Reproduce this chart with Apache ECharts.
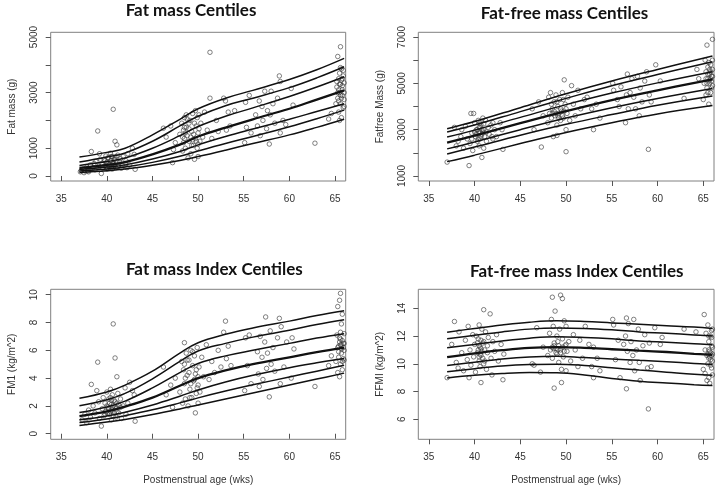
<!DOCTYPE html>
<html>
<head>
<meta charset="utf-8">
<script src="https://cdn.jsdelivr.net/npm/echarts@6/dist/echarts.min.js"></script>
<style>
html,body{margin:0;padding:0;background:#fff;}
#chart{width:720px;height:491px;}
</style>
</head>
<body>
<div id="chart"></div>
<script>
// ---------- data ----------
const xTicks = [35, 40, 45, 50, 55, 60, 65];

// Panel 1: Fat mass (g)
const fmAge = [37, 40, 42, 45, 48, 50, 53, 56, 60, 63, 66];
const fmC97 = [680, 850, 1000, 1480, 2040, 2420, 2800, 3080, 3470, 3820, 4230];
const fmC90 = [500, 680, 830, 1250, 1800, 2150, 2530, 2800, 3180, 3530, 3930];
const fmC75 = [380, 520, 650, 1000, 1450, 1780, 2150, 2450, 2860, 3200, 3570];
const fmC50 = [290, 400, 500, 780, 1130, 1420, 1740, 2040, 2420, 2750, 3080];
const fmC25 = [230, 320, 400, 610, 880, 1120, 1420, 1690, 2040, 2320, 2600];
const fmC10 = [180, 250, 320, 490, 710, 900, 1170, 1420, 1770, 2060, 2370];
const fmC3  = [130, 190, 250, 390, 560, 700, 930, 1170, 1480, 1750, 2040];
const fmTicks = [0, 1000, 2000, 3000, 4000, 5000];
const fmLabels = [0, 1000, 3000, 5000];
const fmPoints = [
[37.1,150],[37.2,200],[37.4,250],[37.6,180],[37.8,320],[38.0,260],[38.2,400],[38.3,880],[38.5,300],[38.7,220],[38.8,520],[39.0,1620],[39.1,350],[39.2,800],[39.4,90],[39.5,450],[39.6,280],[39.7,600],[39.8,380],[39.9,720],[40.0,500],[40.1,300],[40.2,650],[40.3,420],[40.4,820],[40.5,350],[40.5,560],[40.6,250],[40.6,700],[40.7,2400],[40.7,450],[40.8,380],[40.9,1250],[40.9,600],[41.0,300],[41.1,1120],[41.1,500],[41.2,750],[41.3,400],[41.5,620],[41.6,280],[41.8,700],[42.0,450],[42.1,550],[42.3,800],[42.5,400],[42.8,1000],[43.0,780],[43.1,240],
[39.3,600],[39.5,300],[39.8,550],[40.0,250],[40.1,650],[40.2,400],[40.3,300],[40.4,550],[40.5,700],[40.6,450],[40.7,300],[40.8,600],[40.9,400],[41.0,700],[41.2,350],[41.4,500],[41.7,400],[42.2,300],[38.0,150],[38.6,450],[37.5,120],[37.9,180],
[46.2,1720],[46.5,1400],[47.0,1800],[47.2,480],[47.3,950],[47.5,1200],[48.0,1500],[48.2,1900],[48.3,900],[48.4,1650],[48.5,2100],[48.5,1350],[48.6,1000],[48.7,2200],[48.7,1750],[48.8,1450],[48.9,650],[49.0,1900],[49.0,1250],[49.1,2000],[49.2,800],[49.3,1600],[49.4,2250],[49.5,1100],[49.5,1500],[49.6,600],[49.7,1350],[49.7,2350],[49.8,1800],[49.9,1000],[50.0,1550],[50.0,700],[50.1,2200],[50.2,1250],[50.3,1900],[50.5,1400],[50.7,2300],[51.0,1650],[51.3,4450],[51.3,2800],[51.5,1350],[52.0,2000],[52.2,1600],
[48.4,1200],[48.5,1750],[48.6,1550],[48.8,2050],[49.0,1700],[49.2,1400],[49.3,1100],[49.6,1900],[49.8,1250],[50.0,1150],[50.1,1700],[49.4,1300],[48.3,1400],[49.9,2100],
[52.8,2800],[53.0,2700],[53.1,1650],[53.3,2300],[53.5,1800],[54.0,2350],[55.1,1200],[55.2,2650],[55.3,1750],[55.6,2900],[55.8,1550],[56.3,2200],[56.5,1800],[56.7,2700],[56.8,1450],[57.0,2500],[57.1,2000],[57.3,3050],[57.5,1700],[57.6,2350],[57.8,1150],[57.9,2200],[58.0,3050],[58.2,2600],[58.4,1900],[58.7,2800],[58.9,3600],[59.0,1550],[59.0,3400],[59.3,2000],[59.6,1850],[60.2,3150],[60.4,2550],[62.8,1180],
[64.3,2050],[64.6,2250],[65.1,2600],[65.2,3200],[65.3,4300],[65.3,2800],[65.4,3500],[65.4,2300],[65.5,3000],[65.5,3700],[65.6,4650],[65.6,2600],[65.6,3300],[65.7,2100],[65.7,3850],[65.8,2900],[65.8,3100],[65.9,2450],[65.9,3600],[66.0,2750],[66.0,3350],[66.0,3000],[65.5,2000],[65.7,3450],
[65.2,3400],[65.3,3000],[65.4,2700],[65.5,3300],[65.6,3900],[65.7,2800],[65.8,3250],[65.9,3800],[66.0,2500],[65.4,3100],[65.6,2900],[65.8,3500]
];

// Panel 2: Fat-free mass (g)
const ffmAge = [37, 40, 45, 50, 55, 60, 66];
const ffmC97 = [3040, 3350, 3950, 4550, 5100, 5600, 6180];
const ffmC90 = [2900, 3200, 3780, 4350, 4900, 5380, 5930];
const ffmC75 = [2680, 2980, 3530, 4080, 4580, 5020, 5500];
const ffmC50 = [2440, 2740, 3280, 3800, 4280, 4700, 5170];
const ffmC25 = [2170, 2470, 3000, 3500, 3950, 4350, 4780];
const ffmC10 = [1950, 2250, 2760, 3230, 3650, 4050, 4450];
const ffmC3  = [1620, 1900, 2400, 2880, 3300, 3680, 4040];
const ffmTicks = [1000, 2000, 3000, 4000, 5000, 6000, 7000];
const ffmLabels = [1000, 3000, 5000, 7000];
const ffmPoints = [
[37.0,1600],[37.8,3100],[38.0,2300],[38.2,2500],[38.5,2700],[38.6,3000],[38.8,2200],[39.0,3150],[39.2,2600],[39.4,1450],[39.5,2400],[39.6,3700],[39.7,2850],[39.8,2100],[39.9,3700],[40.0,3300],[40.1,2700],[40.2,3000],[40.3,2500],[40.4,3400],[40.5,2900],[40.5,2300],[40.6,3100],[40.6,2600],[40.7,3200],[40.8,1800],[40.8,2800],[40.9,3500],[41.0,2200],[41.0,3000],[41.1,2700],[41.2,3400],[41.3,2500],[41.5,3100],[41.6,2800],[41.8,3200],[42.0,2600],[42.2,3000],[42.4,2700],[42.8,3300],[43.0,3000],[43.1,2150],
[40.0,2900],[40.2,2800],[40.4,2600],[40.5,3100],[40.6,2850],[40.7,2700],[40.8,3000],[40.9,2900],[41.0,3250],[40.3,3000],[40.6,3300],[39.7,2600],[41.3,2900],[41.9,2700],[42.0,3300],
[46.3,3900],[46.5,3000],[47.0,4200],[47.3,2250],[47.5,3600],[48.0,3300],[48.1,4400],[48.2,3700],[48.3,4600],[48.4,3500],[48.5,3900],[48.6,2700],[48.7,4200],[48.8,3600],[48.9,4500],[49.0,3200],[49.0,2750],[49.1,4000],[49.2,3700],[49.3,4300],[49.4,3400],[49.5,3800],[49.6,4600],[49.7,3500],[49.8,5150],[49.9,4100],[50.0,2050],[50.0,3000],[50.1,3700],[50.2,4400],[50.4,3400],[50.6,4900],[50.8,4100],[51.0,3600],[51.3,4700],[51.6,3900],[52.0,4300],[52.3,4400],[52.8,3900],[53.0,3000],[53.3,4100],[53.7,3500],
[48.5,3700],[48.7,3800],[48.9,3700],[49.0,4200],[49.2,3500],[49.4,3900],[49.6,3600],[49.8,3800],[50.0,3900],[48.4,4100],[49.1,3600],[49.7,4300],
[55.1,5000],[55.2,4700],[55.6,4300],[55.8,4000],[56.0,4850],[56.5,3300],[56.6,4500],[56.7,5400],[56.8,3900],[57.0,4600],[57.2,5200],[57.4,4400],[57.6,3900],[57.8,5300],[58.0,3600],[58.1,4800],[58.3,4200],[58.6,5100],[58.8,5500],[59.0,2150],[59.1,4500],[59.3,4200],[59.8,5800],[60.3,5100],[62.9,4350],[64.3,5600],[64.5,5200],
[65.0,4300],[65.1,5000],[65.2,6000],[65.3,4500],[65.3,5500],[65.4,6650],[65.4,4800],[65.5,5200],[65.5,5700],[65.6,4100],[65.6,5900],[65.7,5000],[65.7,5400],[65.8,4600],[65.8,5800],[65.9,5100],[65.9,5300],[66.0,6900],[66.0,4900],[66.0,5600],[66.0,6000],
[65.3,5200],[65.4,5000],[65.5,5400],[65.6,5100],[65.7,5600],[65.8,5200],[65.9,4800],[66.0,5300],[65.5,4600],[65.8,5500]
];

// Panel 3: Fat mass index (kg/m^2)
const fmiAge = [37, 40, 42, 45, 48, 50, 53, 56, 60, 63, 66];
const fmiC97 = [2.55, 3.0, 3.5, 4.5, 5.8, 6.55, 7.15, 7.6, 8.1, 8.5, 8.85];
const fmiC90 = [2.02, 2.45, 2.9, 3.95, 5.2, 5.95, 6.5, 6.95, 7.45, 7.85, 8.2];
const fmiC75 = [1.53, 1.93, 2.35, 3.3, 4.4, 5.05, 5.6, 6.0, 6.5, 6.88, 7.2];
const fmiC50 = [1.26, 1.6, 1.95, 2.6, 3.45, 4.0, 4.55, 5.0, 5.5, 5.87, 6.2];
const fmiC25 = [1.0, 1.28, 1.55, 2.07, 2.7, 3.15, 3.72, 4.2, 4.75, 5.1, 5.42];
const fmiC10 = [0.8, 1.06, 1.3, 1.72, 2.22, 2.58, 3.07, 3.52, 4.08, 4.5, 4.92];
const fmiC3  = [0.6, 0.84, 1.03, 1.38, 1.78, 2.07, 2.5, 2.93, 3.5, 3.93, 4.36];
const fmiTicks = [0, 2, 4, 6, 8, 10];
const fmiPoints = [
[37.3,1.0],[37.6,1.4],[37.8,0.8],[38.0,1.7],[38.2,1.2],[38.3,3.55],[38.5,2.0],[38.7,1.5],[38.9,3.1],[39.0,5.15],[39.1,2.3],[39.2,1.1],[39.4,0.55],[39.5,1.8],[39.6,2.6],[39.7,1.3],[39.8,2.2],[39.9,1.6],[40.0,3.0],[40.1,1.9],[40.2,2.5],[40.3,1.4],[40.4,3.2],[40.5,1.0],[40.5,2.1],[40.6,1.7],[40.6,2.8],[40.7,7.9],[40.7,1.3],[40.8,2.4],[40.9,5.45],[40.9,1.9],[41.0,1.2],[41.1,4.1],[41.1,2.2],[41.2,2.9],[41.3,1.5],[41.5,2.5],[41.6,1.1],[41.8,2.0],[42.0,3.3],[42.1,1.4],[42.3,2.2],[42.5,3.7],[42.8,3.1],[43.0,2.8],[43.1,0.9],
[40.0,2.0],[40.1,1.5],[40.2,1.8],[40.3,2.2],[40.4,1.6],[40.5,2.4],[40.6,1.9],[40.7,2.0],[40.8,1.5],[40.9,2.3],[41.0,1.8],[41.1,1.6],[41.3,2.1],[39.8,1.4],[40.4,2.6],[41.5,1.9],
[46.2,4.8],[46.5,2.8],[47.0,3.5],[47.2,1.9],[47.5,4.0],[48.0,3.0],[48.2,5.2],[48.3,2.2],[48.4,4.6],[48.5,6.55],[48.5,3.6],[48.6,2.5],[48.7,5.8],[48.8,4.2],[48.9,2.0],[49.0,5.3],[49.1,3.2],[49.2,6.0],[49.3,2.6],[49.4,4.9],[49.5,3.8],[49.6,5.6],[49.7,1.5],[49.7,4.3],[49.8,2.9],[49.9,6.2],[50.0,3.5],[50.0,2.2],[50.1,4.8],[50.2,3.0],[50.4,5.5],[50.6,4.1],[50.9,6.4],[51.2,3.9],[51.5,5.2],[51.8,4.4],[52.2,6.0],[52.5,4.8],
[48.6,4.0],[48.8,5.3],[49.0,4.4],[49.2,3.6],[49.4,5.9],[49.6,3.9],[49.8,4.6],[50.0,4.1],[48.5,5.0],[49.1,2.6],[49.9,3.3],
[52.8,7.3],[53.0,8.1],[53.1,5.4],[53.3,6.3],[53.6,4.9],[55.1,3.1],[55.2,6.9],[55.4,4.9],[55.6,7.1],[55.8,3.6],[56.5,5.9],[56.6,4.3],[56.7,3.4],[56.8,7.0],[57.0,5.5],[57.1,3.9],[57.3,6.6],[57.4,8.4],[57.5,4.7],[57.6,5.8],[57.8,2.65],[57.9,7.4],[58.0,5.0],[58.2,6.2],[58.4,4.5],[58.7,6.9],[58.9,8.3],[59.0,3.6],[59.1,7.7],[59.4,4.8],[59.7,6.6],[60.2,4.0],[60.3,6.9],[60.5,6.1],[62.8,3.4],
[64.3,4.9],[64.6,5.6],[65.1,5.2],[65.2,7.1],[65.3,9.15],[65.3,4.4],[65.4,6.3],[65.4,5.9],[65.5,9.6],[65.5,4.1],[65.6,10.1],[65.6,6.8],[65.6,5.0],[65.7,7.9],[65.7,6.1],[65.8,4.6],[65.8,8.6],[65.9,6.5],[65.9,5.4],[66.0,7.2],[66.0,6.0],[66.0,5.3],[65.5,6.6],[65.7,6.4],
[65.3,6.2],[65.4,5.5],[65.5,6.9],[65.6,6.4],[65.7,5.8],[65.8,6.7],[65.9,6.2],[66.0,6.5],[65.6,7.3],[65.8,5.2]
];

// Panel 4: Fat-free mass index (kg/m^2)
const ffmiAge = [37, 40, 43, 46, 49, 52, 55, 58, 61, 64, 66];
const ffmiC97 = [12.28, 12.55, 12.8, 13.0, 13.1, 13.05, 12.95, 12.85, 12.75, 12.65, 12.55];
const ffmiC90 = [11.8, 12.05, 12.3, 12.5, 12.58, 12.55, 12.45, 12.3, 12.2, 12.08, 12.0];
const ffmiC75 = [11.15, 11.4, 11.65, 11.85, 11.95, 11.9, 11.8, 11.65, 11.55, 11.45, 11.37];
const ffmiC50 = [10.48, 10.75, 10.98, 11.15, 11.2, 11.15, 11.05, 10.95, 10.85, 10.72, 10.65];
const ffmiC25 = [9.88, 10.12, 10.35, 10.5, 10.55, 10.45, 10.35, 10.25, 10.15, 10.03, 9.95];
const ffmiC10 = [9.42, 9.65, 9.85, 9.95, 9.97, 9.88, 9.72, 9.55, 9.4, 9.25, 9.18];
const ffmiC3  = [8.98, 9.17, 9.3, 9.37, 9.35, 9.2, 8.95, 8.75, 8.62, 8.5, 8.44];
const ffmiTicks = [6, 8, 10, 12, 14];
const ffmiPoints = [
[37.0,9.0],[37.5,11.4],[37.8,13.05],[38.0,10.1],[38.2,9.7],[38.3,12.3],[38.6,10.8],[38.8,9.5],[39.0,11.7],[39.2,10.3],[39.3,12.7],[39.4,9.0],[39.5,11.0],[39.6,9.9],[39.8,12.1],[39.9,10.5],[40.0,11.4],[40.1,9.4],[40.2,12.0],[40.3,10.8],[40.4,11.8],[40.5,10.2],[40.5,12.8],[40.6,11.2],[40.6,9.8],[40.7,8.65],[40.7,10.6],[40.8,12.5],[40.9,11.5],[41.0,13.9],[41.0,10.0],[41.1,11.0],[41.2,12.3],[41.3,9.6],[41.4,10.8],[41.5,11.9],[41.7,13.6],[41.8,10.4],[41.9,9.2],[42.0,11.6],[42.2,10.9],[42.4,12.1],[42.6,10.2],[42.9,11.4],[43.1,8.85],[43.2,10.7],
[40.4,11.0],[40.5,11.3],[40.6,10.7],[40.7,11.1],[40.8,10.9],[40.9,10.4],[41.0,11.6],[40.5,10.5],[40.7,11.7],[40.3,11.5],[41.1,10.2],[41.4,11.3],
[46.3,10.0],[46.5,9.9],[46.8,12.6],[47.2,9.4],[47.5,11.2],[48.0,10.6],[48.2,12.2],[48.3,11.0],[48.4,13.2],[48.5,14.8],[48.5,10.4],[48.6,12.7],[48.7,8.25],[48.7,11.3],[48.8,13.8],[48.9,10.8],[49.0,12.0],[49.1,11.6],[49.2,10.1],[49.3,12.5],[49.4,14.95],[49.4,11.0],[49.5,8.65],[49.5,9.6],[49.6,14.7],[49.6,11.8],[49.7,10.5],[49.8,13.1],[49.9,11.3],[50.0,9.5],[50.0,12.7],[50.1,10.9],[50.3,11.6],[50.5,10.2],[50.8,12.1],[51.0,11.0],[51.3,9.8],[51.5,11.7],[51.8,10.4],[52.1,12.7],[52.5,11.4],[52.8,9.8],[53.0,11.2],[53.0,9.0],[53.4,10.4],[53.7,9.5],
[48.6,11.1],[48.7,11.5],[48.9,11.1],[49.0,10.7],[49.2,11.3],[49.4,10.8],[49.6,11.2],[49.8,10.9],[50.0,11.4],[48.5,11.2],[49.1,11.0],
[55.1,13.2],[55.2,12.8],[55.4,10.3],[55.7,11.7],[55.9,9.0],[56.3,11.4],[56.5,12.0],[56.6,8.2],[56.6,13.3],[56.7,10.9],[56.8,12.9],[57.0,10.1],[57.1,11.6],[57.3,10.6],[57.4,13.2],[57.5,9.5],[57.7,11.0],[57.9,12.5],[58.0,10.1],[58.1,8.8],[58.4,11.3],[58.6,12.1],[58.9,9.7],[59.0,6.75],[59.1,11.5],[59.3,9.8],[59.7,12.6],[60.3,11.4],[60.5,11.9],[62.9,12.5],[64.2,12.3],
[65.0,9.6],[65.1,13.55],[65.2,11.0],[65.2,9.3],[65.3,12.2],[65.4,10.6],[65.4,8.8],[65.5,12.8],[65.5,10.0],[65.6,11.6],[65.6,9.0],[65.7,10.9],[65.7,8.6],[65.8,12.0],[65.8,10.3],[65.9,11.3],[65.9,9.7],[66.0,10.7],[66.0,12.5],[66.0,9.2],[65.6,10.4],[65.9,11.9],
[65.5,10.7],[65.6,11.0],[65.7,10.5],[65.8,10.8],[65.9,10.6],[66.0,11.2],[65.6,12.0],[65.8,9.9],[65.9,12.4],[66.0,10.2]
];

const titles = ['Fat mass Centiles', 'Fat-free mass Centiles', 'Fat mass Index Centiles', 'Fat-free mass Index Centiles'];
const yNames = ['Fat mass (g)', 'Fatfree Mass (g)', 'FM1 (kg/m^2)', 'FFMI (kg/m^2)'];
const xName = 'Postmenstrual age (wks)';

// ---------- layout ----------
const panels = [
  {grid:{left:50.7, top:32.3, width:295, height:148.7}, ymin:-180, ymax:5170, ticks:fmTicks, labels:fmLabels,
   age:fmAge, curves:[fmC3,fmC10,fmC25,fmC50,fmC75,fmC90,fmC97], points:fmPoints, xname:false,
   title:{x:191, y:1}},
  {grid:{left:418.3, top:32.3, width:295.7, height:148.7}, ymin:784, ymax:7203, ticks:ffmTicks, labels:ffmLabels,
   age:ffmAge, curves:[ffmC3,ffmC10,ffmC25,ffmC50,ffmC75,ffmC90,ffmC97], points:ffmPoints, xname:false,
   title:{x:564.5, y:4}},
  {grid:{left:50.7, top:289.3, width:295, height:150}, ymin:-0.4, ymax:10.39, ticks:fmiTicks, labels:fmiTicks,
   age:fmiAge, curves:[fmiC3,fmiC10,fmiC25,fmiC50,fmiC75,fmiC90,fmiC97], points:fmiPoints, xname:true,
   title:{x:214.3, y:260}},
  {grid:{left:418.3, top:289.3, width:295.7, height:150}, ymin:4.56, ymax:15.37, ticks:ffmiTicks, labels:ffmiTicks,
   age:ffmiAge, curves:[ffmiC3,ffmiC10,ffmiC25,ffmiC50,ffmiC75,ffmiC90,ffmiC97], points:ffmiPoints, xname:true,
   title:{x:576.7, y:262}}
];

const txtColor = '#333';
const fontFam = 'Liberation Sans, Arial, sans-serif';

const grids = [], xAxes = [], yAxes = [], series = [], titleOpts = [];
panels.forEach((p, i) => {
  grids.push(Object.assign({show:true, borderColor:'#808080', borderWidth:1, backgroundColor:'transparent',
    containLabel:false, outerBoundsMode:'none'}, p.grid));
  titleOpts.push({text:titles[i], left:p.title.x, top:p.title.y, textAlign:'center', padding:0,
    textStyle:{fontFamily:'Lato', fontWeight:'bold', fontSize:17, lineHeight:20, color:'#111'}});
  xAxes.push({type:'value', gridIndex:i, min:33.85, max:66.17,
    axisLine:{show:false}, splitLine:{show:false},
    axisTick:{show:true, length:5, customValues:xTicks, lineStyle:{color:'#555', width:1}},
    axisLabel:{show:true, customValues:xTicks, margin:13, color:txtColor, fontSize:10, fontFamily:fontFam,
      formatter:v => String(v)},
    name: p.xname ? xName : '', nameLocation:'middle', nameGap:36,
    nameTextStyle:{color:txtColor, fontSize:10, fontFamily:fontFam}});
  yAxes.push({type:'value', gridIndex:i, min:p.ymin, max:p.ymax,
    axisLine:{show:false}, splitLine:{show:false},
    axisTick:{show:true, length:5, customValues:p.ticks, lineStyle:{color:'#555', width:1}},
    axisLabel:{show:true, customValues:p.labels, rotate:90, margin:11, color:txtColor, fontSize:10, fontFamily:fontFam,
      formatter:v => String(v)},
    name:yNames[i], nameLocation:'middle', nameGap:33,
    nameTextStyle:{color:txtColor, fontSize:10, fontFamily:fontFam}});
  series.push({type:'scatter', xAxisIndex:i, yAxisIndex:i, data:p.points, symbol:'circle', symbolSize:4.5,
    itemStyle:{color:'rgba(0,0,0,0)', borderColor:'#3a3a3a', borderWidth:0.8}, z:2, silent:true});
  p.curves.forEach((c, k) => {
    series.push({type:'line', xAxisIndex:i, yAxisIndex:i, data:p.age.map((a, j) => [a, c[j]]),
      showSymbol:false, smooth:0.4,
      lineStyle:{color:'#111', width: k === 3 ? 2.3 : 1.5}, z:3, silent:true});
  });
});

const chart = echarts.init(document.getElementById('chart'), null, {renderer:'canvas'});
chart.setOption({
  animation:false,
  backgroundColor:'#fff',
  title:titleOpts,
  grid:grids,
  xAxis:xAxes,
  yAxis:yAxes,
  series:series
});
</script>
</body>
</html>
